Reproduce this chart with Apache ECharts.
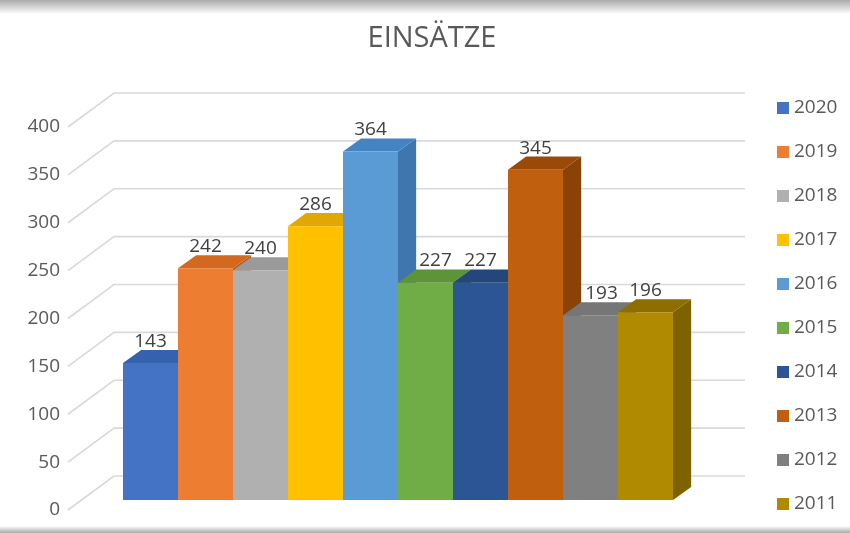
<!DOCTYPE html>
<html><head><meta charset="utf-8">
<script src="https://cdn.jsdelivr.net/npm/echarts@6/dist/echarts.min.js"></script>
<style>html,body{margin:0;padding:0;background:#fff}#c{width:850px;height:533px}</style>
</head><body><div id="c"></div>
<script>
// ---- data ----
const years = ['2020','2019','2018','2017','2016','2015','2014','2013','2012','2011'];
const values = [143, 242, 240, 286, 364, 227, 227, 345, 193, 196];
const yTicks = [0, 50, 100, 150, 200, 250, 300, 350, 400];
const chartTitle = 'EINSÄTZE';
// ---- styling ----
const frontColors = ['#4472c4','#ed7d31','#b0b0b0','#ffc000','#5b9bd5','#70ad47','#2c5596','#c0600f','#808080','#b08a00'];
const topColors   = ['#3662ad','#d2691f','#9a9a9a','#e0a800','#4584c2','#5d9438','#24467b','#9a4a08','#767676','#8f6e00'];
const sideColors  = ['#2f5697','#b95b1a','#858585','#c79500','#3f76ad','#528433','#1f3c6b','#8a4307','#5c5c5c','#7f6200'];
// horizontal nudge (px) of a data label, used where a taller neighbour's side face would cover it
const labelNudge  = [0, 0, 0, 0, 0, 10, 0, 0, 11, 0];
const FONT = '"Open Sans", "DejaVu Sans", sans-serif';
const DEPTH = 0.33, SLOPE = 0.72;

const chart = echarts.init(document.getElementById('c'), null, {renderer:'canvas'});

function barRender(idx){
  return function(params, api){
    const cat = api.value(0), v = api.value(1);
    const p0 = api.coord([cat, 0]);
    const p1 = api.coord([cat, v]);
    const w = api.size([1, 0])[0];
    const xl = p0[0] - w/2, xr = p0[0] + w/2, yb = p0[1], yt = p1[1];
    const dx = w * DEPTH, dy = -dx * SLOPE;
    return {type:'group', children:[
      {type:'polygon', shape:{points:[[xr,yb],[xr+dx,yb+dy],[xr+dx,yt+dy],[xr,yt]]}, style:{fill:sideColors[idx]}},
      {type:'polygon', shape:{points:[[xl,yt],[xl+dx,yt+dy],[xr+dx,yt+dy],[xr,yt]]}, style:{fill:topColors[idx]}},
      {type:'rect', shape:{x:xl, y:yt, width:w, height:yb-yt}, style:{fill:frontColors[idx]}}
    ]};
  };
}

const series = [];
// back wall + left wall gridlines
series.push({
  type:'custom', xAxisIndex:1, yAxisIndex:1, z:1, silent:true,
  data: yTicks.map(v => [0, v]),
  renderItem: function(params, api){
    const v = api.value(1);
    const a = api.coord([0, v]);
    const b = api.coord([1, v]);
    return {type:'polyline', shape:{points:[[a[0], a[1]], [a[0]+46, a[1]-34], [b[0]+46, b[1]-34]]},
      style:{stroke:'#d9d9d9', lineWidth:1.6, fill:null}};
  }
});
years.forEach((y, i) => {
  series.push({
    name: y, type:'custom', xAxisIndex:0, yAxisIndex:0, z:2,
    itemStyle:{color: frontColors[i]},
    data: [[i, values[i]]],
    renderItem: barRender(i)
  });
});
// data labels on top of everything
series.push({
  type:'custom', xAxisIndex:0, yAxisIndex:0, z:5, silent:true,
  data: values.map((v, i) => [i, v]),
  renderItem: function(params, api){
    const cat = api.value(0), v = api.value(1);
    const p1 = api.coord([cat, v]);
    const w = api.size([1, 0])[0];
    const dy = -w * DEPTH * SLOPE;
    return {type:'text', x:p1[0] + labelNudge[params.dataIndex], y:p1[1] + dy + 1,
      style:{text:String(v), align:'center', verticalAlign:'bottom', fontSize:19, fontFamily:FONT, fill:'#404040'}};
  }
});

chart.setOption({
  animation:false,
  backgroundColor:'#ffffff',
  graphic:[
    {type:'rect', left:0, top:0, shape:{x:0,y:0,width:850,height:14}, z:-1,
      style:{fill:new echarts.graphic.LinearGradient(0,0,0,1,[{offset:0,color:'#aaaaaa'},{offset:1,color:'#ffffff'}])}},
    {type:'rect', left:0, top:526, shape:{x:0,y:0,width:850,height:7}, z:-1,
      style:{fill:new echarts.graphic.LinearGradient(0,0,0,1,[{offset:0,color:'#ffffff'},{offset:1,color:'#a8a8a8'}])}},
    {type:'text', x:432, y:39, z:10, style:{text:chartTitle, align:'center', verticalAlign:'middle', fontSize:29, fontFamily:FONT, fill:'#595959'}}
  ],
  legend:{
    orient:'vertical', left:772, top:93, itemWidth:12, itemHeight:12, itemGap:24, icon:'rect',
    selectedMode:false,
    textStyle:{fontSize:19, fontFamily:FONT, color:'#595959', lineHeight:20},
    data: years
  },
  grid:[
    {left:123, right:177, top:117, bottom:33},
    {left:68, right:151, top:127, bottom:23}
  ],
  xAxis:[
    {type:'category', gridIndex:0, data:years, show:false},
    {type:'value', gridIndex:1, min:0, max:1, show:false}
  ],
  yAxis:[
    {type:'value', gridIndex:0, min:0, max:400, interval:50, show:false},
    {type:'value', gridIndex:1, min:0, max:400, interval:50,
      axisLine:{show:false}, axisTick:{show:false}, splitLine:{show:false},
      axisLabel:{margin:8, fontSize:19, fontFamily:FONT, color:'#595959'}}
  ],
  series: series
});
</script></body></html>
